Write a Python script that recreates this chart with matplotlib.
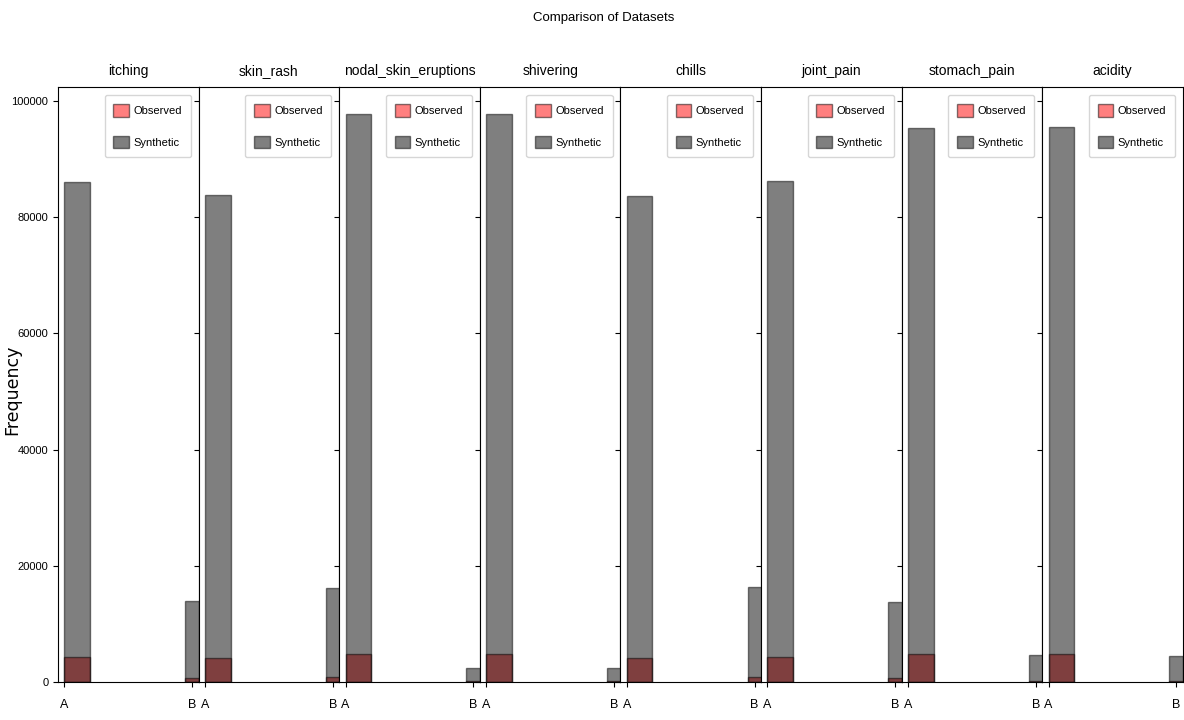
import numpy as np
import matplotlib
matplotlib.use('Agg')
import matplotlib.pyplot as plt

plt.rcParams['font.family'] = ['Liberation Sans', 'DejaVu Sans']

symptoms = ['itching', 'skin_rash', 'nodal_skin_eruptions', 'shivering',
            'chills', 'joint_pain', 'stomach_pain', 'acidity']
categories = ['A', 'B']

# counts per category (A, B)
observed_a = [4242, 4134, 4812, 4812, 4122, 4236, 4812, 4716]
observed_b = [678, 786, 108, 108, 798, 684, 108, 204]
synthetic_a = [86100, 83800, 97700, 97700, 83600, 86200, 95400, 95500]
synthetic_b = [13900, 16200, 2300, 2300, 16400, 13800, 4600, 4500]

fig, axes = plt.subplots(1, len(symptoms), figsize=(11.84, 7.2), dpi=100, sharey=True)
fig.subplots_adjust(left=0.049, right=0.999, top=0.879, bottom=0.053, wspace=0)

for i, ax in enumerate(axes):
    obs = [observed_a[i], observed_b[i]]
    syn = [synthetic_a[i], synthetic_b[i]]
    # A bar starts at the tick, B bar sits centred on its tick
    ax.bar([0.0], obs[:1], width=0.2, align='edge', color='red', alpha=0.5,
           edgecolor='black', linewidth=1, label='Observed')
    ax.bar([1.0], obs[1:], width=0.11, align='center', color='red', alpha=0.5,
           edgecolor='black', linewidth=1)
    ax.bar([0.0], syn[:1], width=0.2, align='edge', color='black', alpha=0.5,
           edgecolor='black', linewidth=1, label='Synthetic')
    ax.bar([1.0], syn[1:], width=0.11, align='center', color='black', alpha=0.5,
           edgecolor='black', linewidth=1)
    ax.set_xlim(-0.05, 1.05)
    ax.set_xticks([0, 1])
    ax.set_xticklabels(categories, fontsize=9)
    ax.set_title(symptoms[i], fontsize=10, pad=9)
    ax.legend(loc='upper right', fontsize=8, labelspacing=1.7, borderpad=0.8,
              handlelength=1.4, handleheight=1.4, handletextpad=0.4,
              borderaxespad=0.7)
    ax.tick_params(axis='y', labelsize=8)
    ax.tick_params(axis='x', pad=9)

axes[0].set_ylim(0, 102400)
axes[0].set_yticks([0, 20000, 40000, 60000, 80000, 100000])
fig.text(0.010, 0.458, 'Frequency', rotation=90, va='center', ha='center',
         fontsize=12.5, family='DejaVu Sans')
fig.suptitle('Comparison of Datasets', x=0.51, y=0.983, fontsize=9.5)

fig.savefig('out.png', dpi=100)
